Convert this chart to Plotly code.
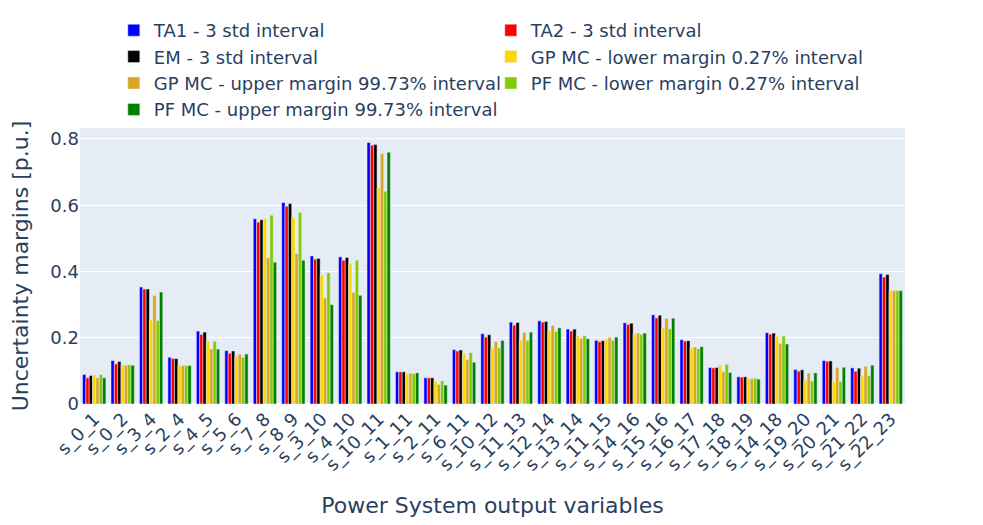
import plotly.graph_objects as go

categories = ["s_0_1", "s_0_2", "s_3_4", "s_2_4", "s_4_5", "s_5_6", "s_7_8", "s_8_9",
              "s_3_10", "s_4_10", "s_10_11", "s_1_11", "s_2_11", "s_6_11", "s_10_12",
              "s_11_13", "s_12_14", "s_13_14", "s_11_15", "s_14_16", "s_15_16", "s_16_17",
              "s_17_18", "s_18_19", "s_14_18", "s_19_20", "s_20_21", "s_21_22", "s_22_23"]

ta1 = [0.089, 0.131, 0.353, 0.141, 0.220, 0.161, 0.559, 0.608, 0.447, 0.444, 0.789, 0.097, 0.079,
       0.164, 0.212, 0.247, 0.251, 0.226, 0.192, 0.245, 0.269, 0.194, 0.110, 0.082, 0.215, 0.104,
       0.131, 0.109, 0.393]
ta2 = [0.079, 0.121, 0.347, 0.137, 0.210, 0.153, 0.549, 0.597, 0.437, 0.434, 0.781, 0.097, 0.079,
       0.160, 0.202, 0.238, 0.247, 0.220, 0.188, 0.240, 0.260, 0.190, 0.109, 0.081, 0.211, 0.099,
       0.129, 0.099, 0.383]
em = [0.086, 0.128, 0.347, 0.137, 0.217, 0.160, 0.556, 0.605, 0.439, 0.442, 0.783, 0.097, 0.079,
      0.163, 0.209, 0.246, 0.249, 0.226, 0.191, 0.244, 0.268, 0.191, 0.110, 0.082, 0.214, 0.103,
      0.130, 0.108, 0.391]
gp_lower = [0.088, 0.118, 0.255, 0.116, 0.189, 0.144, 0.559, 0.562, 0.388, 0.423, 0.652, 0.091, 0.068,
            0.152, 0.171, 0.193, 0.221, 0.205, 0.194, 0.211, 0.230, 0.169, 0.118, 0.078, 0.204, 0.071,
            0.068, 0.084, 0.343]
gp_upper = [0.079, 0.117, 0.328, 0.116, 0.166, 0.150, 0.441, 0.454, 0.320, 0.337, 0.756, 0.093, 0.059,
            0.134, 0.188, 0.216, 0.237, 0.198, 0.201, 0.214, 0.258, 0.172, 0.097, 0.076, 0.183, 0.093,
            0.110, 0.114, 0.343]
pf_lower = [0.089, 0.118, 0.252, 0.116, 0.189, 0.141, 0.570, 0.578, 0.396, 0.434, 0.642, 0.091, 0.070,
            0.155, 0.169, 0.192, 0.219, 0.206, 0.192, 0.210, 0.227, 0.167, 0.120, 0.078, 0.205, 0.069,
            0.068, 0.086, 0.343]
pf_upper = [0.079, 0.117, 0.338, 0.116, 0.166, 0.151, 0.428, 0.434, 0.300, 0.328, 0.760, 0.094, 0.057,
            0.126, 0.192, 0.217, 0.230, 0.197, 0.202, 0.214, 0.259, 0.173, 0.095, 0.075, 0.181, 0.094,
            0.111, 0.117, 0.342]

series = [
    ("TA1 - 3 std interval", ta1, "blue"),
    ("TA2 - 3 std interval", ta2, "red"),
    ("EM - 3 std interval", em, "black"),
    ("GP MC - lower margin 0.27% interval", gp_lower, "#FFD700"),
    ("GP MC - upper margin 99.73% interval", gp_upper, "#DAA520"),
    ("PF MC - lower margin 0.27% interval", pf_lower, "#7FCC00"),
    ("PF MC - upper margin 99.73% interval", pf_upper, "green"),
]

fig = go.Figure()
for name, vals, color in series:
    fig.add_trace(go.Bar(x=categories, y=vals, name=name, marker_color=color))

fig.update_layout(
    template="plotly",
    width=983, height=525,
    barmode="group",
    bargap=0.18,
    font=dict(family="Verdana, DejaVu Sans, sans-serif", size=18),
    margin=dict(l=72, r=86, t=120, b=129, autoexpand=False),
    legend=dict(orientation="h", x=0.041, xanchor="left", y=1.0, yanchor="bottom",
                entrywidth=332, font=dict(size=18)),
    xaxis=dict(title=dict(text="Power System output variables", font=dict(size=22), standoff=22),
               tickangle=-45, tickfont=dict(size=18)),
    yaxis=dict(title=dict(text="Uncertainty margins [p.u.]", font=dict(size=22)),
               tickfont=dict(size=18), range=[0, 0.833], dtick=0.2),
)

fig.write_html("out.html")
